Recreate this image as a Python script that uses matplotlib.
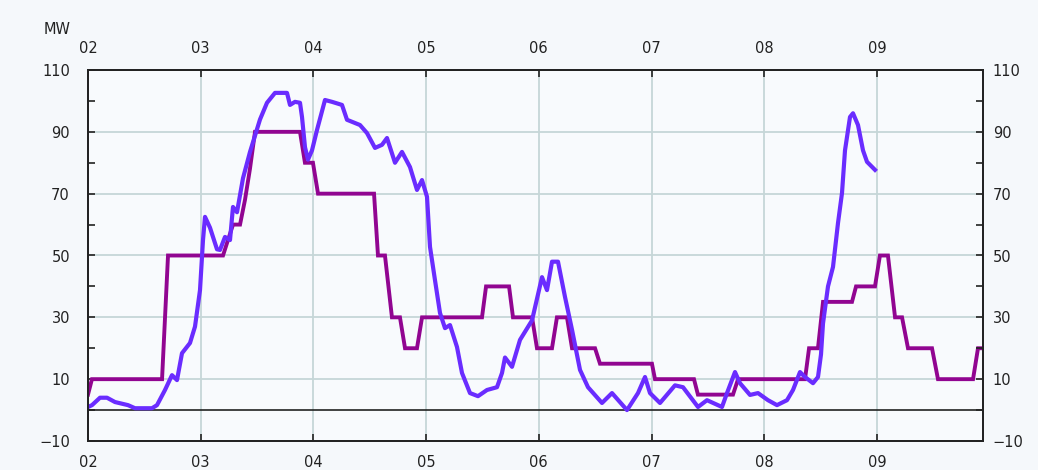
import matplotlib
matplotlib.use("Agg")
import matplotlib.pyplot as plt
from matplotlib.ticker import MultipleLocator, FixedLocator

# time axis in days (02 .. 09), values in MW
plan_t = [2.000, 2.035, 2.657, 2.710, 3.198, 3.242, 3.287, 3.349, 3.393, 3.437,
          3.482, 3.881, 3.925, 3.996, 4.041, 4.538, 4.573, 4.635, 4.697, 4.768,
          4.813, 4.919, 4.964, 5.496, 5.532, 5.736, 5.771, 5.940, 5.984, 6.117,
          6.161, 6.250, 6.295, 6.499, 6.543, 7.004, 7.031, 7.377, 7.412, 7.723,
          7.768, 8.362, 8.398, 8.477, 8.522, 8.779, 8.815, 8.983, 9.027, 9.098,
          9.161, 9.223, 9.276, 9.489, 9.542, 9.853, 9.897, 9.941]
plan_mw = [5, 10, 10, 50, 50, 55, 60, 60, 68, 78,
           90, 90, 80, 80, 70, 70, 50, 50, 30, 30,
           20, 20, 30, 30, 40, 40, 30, 30, 20, 20,
           30, 30, 20, 20, 15, 15, 10, 10, 5, 5,
           10, 10, 20, 20, 35, 35, 40, 40, 50, 50,
           30, 30, 20, 20, 10, 10, 20, 20]

actual_x = [88, 92, 100, 107, 115, 128, 135, 152, 157, 165, 172, 177, 182, 190,
            195, 200, 203, 205, 210, 217, 220, 225, 230, 233, 237, 243, 250, 260,
            267, 275, 287, 290, 295, 300, 302, 305, 308, 312, 317, 325, 332, 342,
            347, 360, 367, 375, 382, 387, 395, 402, 410, 417, 422, 427, 430, 435,
            440, 445, 450, 457, 462, 470, 478, 487, 497, 502, 505, 512, 520, 532,
            542, 547, 552, 558, 565, 572, 580, 588, 602, 612, 627, 638, 645, 650,
            660, 675, 683, 698, 707, 722, 727, 735, 740, 750, 758, 768, 777, 787,
            793, 800, 805, 813, 818, 821, 823, 828, 833, 838, 842, 845, 850, 853,
            858, 863, 867, 875]
actual_mw = [1, 1.6, 4, 4, 2.6, 1.6, 0.6, 0.6, 1.6, 6.5, 11.3, 9.7, 18.4, 21.7,
             27, 38.8, 55, 62.5, 59, 52, 51.8, 56, 55, 65.7, 64, 75, 83.5, 94,
             99.4, 102.6, 102.6, 98.7, 99.7, 99.4, 94.8, 85, 81, 84, 90.6, 100.3, 99.7, 98.7,
             93.9, 92.2, 89.6, 84.8, 85.8, 88, 80, 83.5, 78.6, 71.2, 74.4, 69, 52.8, 42,
             31.4, 26.5, 27.5, 20.4, 12, 5.5, 4.5, 6.5, 7.4, 12, 17, 14, 22.7, 29,
             43, 38.8, 48, 48, 36.6, 26, 13, 7.4, 2.3, 5.5, 0, 5.5, 10.7, 5.5,
             2.3, 8, 7.4, 1, 3.2, 1, 5.5, 12.3, 8.7, 4.9, 5.5, 3.2, 1.6, 3.2,
             6.5, 12.3, 10.7, 8.7, 10.7, 18, 28, 40, 46.3, 60.5, 70.2, 84, 94.8, 96,
             92.2, 84, 80.3, 77.7]
# sample positions were read in 1/112.7 day steps from 02
actual_t = [2 + (x - 88) / 112.7 for x in actual_x]

day_ticks = [2, 3, 4, 5, 6, 7, 8, 9]
day_labels = ["02", "03", "04", "05", "06", "07", "08", "09"]
mw_ticks = [-10, 10, 30, 50, 70, 90, 110]

bg = "#f5f8fb"
grid_c = "#c6d6d8"
ink = "#222222"

fig = plt.figure(figsize=(10.38, 4.70), dpi=100, facecolor=bg)
ax = fig.add_axes([88 / 1038, 1 - 441 / 470, (983 - 88) / 1038, (441 - 70) / 470])
ax.set_facecolor("#f8fafd")

ax.set_xlim(2, 2 + (983 - 88) / 112.7)
ax.set_ylim(-10, 110)

ax.plot(plan_t, plan_mw, color="#910591", lw=2.8, solid_joinstyle="miter", zorder=3)
ax.plot(actual_t, actual_mw, color="#6a2cff", lw=3.0, zorder=4)
ax.axhline(0, color=ink, lw=1.2, zorder=2)

ax.xaxis.set_major_locator(FixedLocator(day_ticks))
ax.set_xticklabels(day_labels)
ax.grid(True, which="major", color=grid_c, lw=1.3, zorder=1)
ax.tick_params(axis="x", direction="in", length=5, width=1.2, color=ink,
               top=True, labeltop=True, labelsize=10.5, labelcolor=ink, pad=10)

# same MW scale on both sides, right side via a twin axis
ax_r = ax.twinx()
ax_r.set_ylim(ax.get_ylim())
for a, pad in ((ax, 13), (ax_r, 7)):
    a.yaxis.set_major_locator(FixedLocator(mw_ticks))
    a.yaxis.set_minor_locator(MultipleLocator(10))
    a.tick_params(axis="y", which="both", direction="in", length=5, width=1.2,
                  color=ink, labelsize=10.5, labelcolor=ink, pad=pad)
ax.yaxis.grid(True, which="major", color=grid_c, lw=1.3, zorder=1)

for a in (ax, ax_r):
    for s in a.spines.values():
        s.set_color(ink)
        s.set_linewidth(1.3)

fig.text(57 / 1038, 1 - 30 / 470, "MW", fontsize=10.5, color=ink,
         ha="center", va="center")

fig.savefig("out.png", dpi=100, facecolor=bg)
